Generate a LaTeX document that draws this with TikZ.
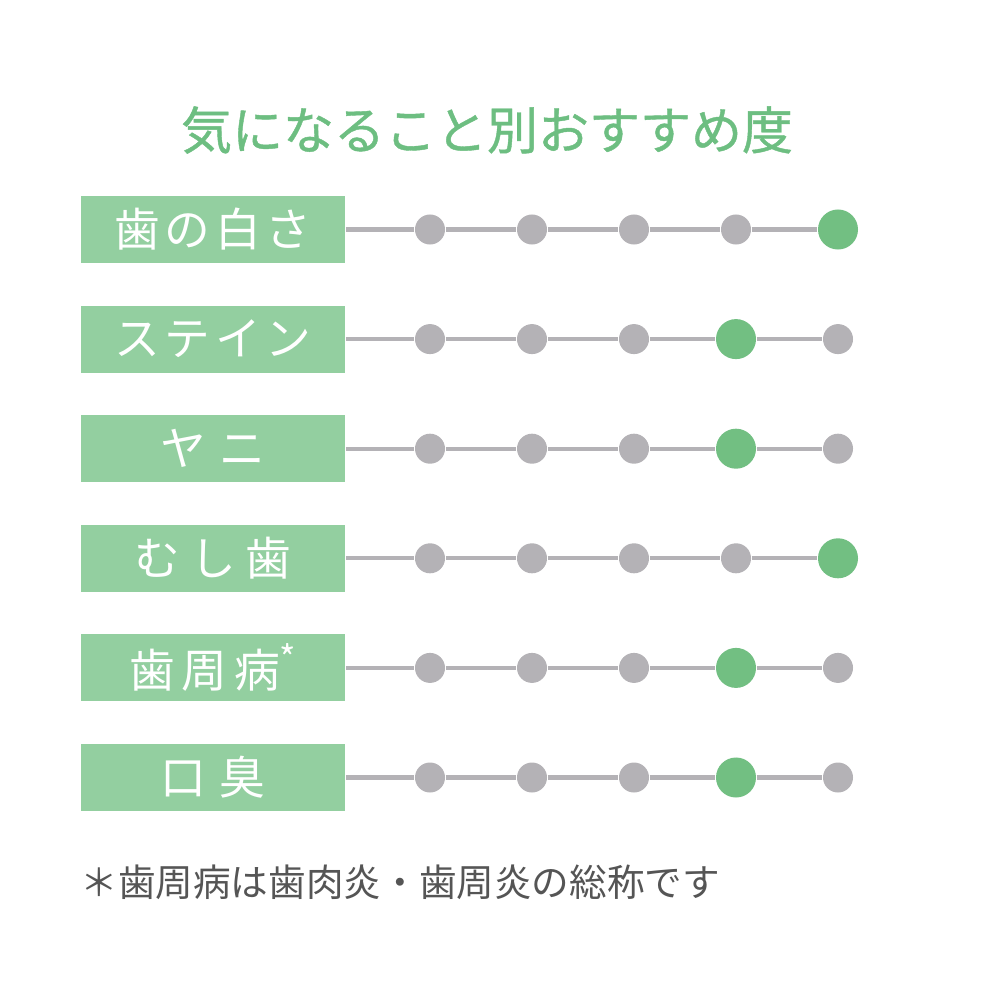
\documentclass[tikz,border=0pt]{standalone}
\usepackage{fontspec}
\setmainfont{Noto Sans CJK JP}
\usetikzlibrary{positioning}

\definecolor{boxgreen}{HTML}{93CFA0}
\definecolor{titlegreen}{HTML}{6DBE81}
\definecolor{dotgreen}{HTML}{72BF82}
\definecolor{dotgray}{HTML}{B4B2B6}
\definecolor{notegray}{HTML}{555555}

\begin{document}
\begin{tikzpicture}[x=0.01cm,y=-0.01cm,
				item box/.style={fill=boxgreen,text=white,inner sep=0pt,
					minimum width=2.64cm,minimum height=0.67cm,font=\fontsize{13}{13}\selectfont},
				dot0/.style={circle,fill=dotgray,inner sep=0pt,minimum size=0.30cm},
				dot1/.style={circle,fill=dotgreen,inner sep=0pt,minimum size=0.40cm},
				bar/.style={draw=dotgray,line width=1.2pt}]
				
				\useasboundingbox (0,0) rectangle (1000,1000);
				
				\node[text=titlegreen,font=\fontsize{14.5}{14.5}\selectfont\addfontfeature{FakeBold=0.8}] (title) at (487,130) {気になること別おすすめ度};
				
				\foreach \name/\lvl/\sp [count=\r from 0] in {歯の白さ/5/10,ステイン/4/10,ヤニ/4/30,むし歯/5/22,歯周病\raisebox{0.35em}{\fontsize{10}{10}\selectfont *}/4/14,口臭/4/30}{
					\pgfmathsetmacro\yy{229.5+109.6*\r}
					\node[item box] (box\r) at (213,\yy) {\addfontfeature{LetterSpace=\sp}\name\hspace{-0.\sp em}};
					\foreach \i in {1,...,5}{
						\pgfmathtruncatemacro\on{\i==\lvl}
						\node[dot\on] (d\r\i) at (328+102*\i,\yy) {};
					}
					\draw[bar] (box\r) -- (d\r1) -- (d\r2) -- (d\r3) -- (d\r4) -- (d\r5);
				}
				
				\node[anchor=west,text=notegray,font=\fontsize{10.7}{10.7}\selectfont] (note) at (68,882) {＊歯周病は歯肉炎・歯周炎の総称です};
				
\end{tikzpicture}
\end{document}
